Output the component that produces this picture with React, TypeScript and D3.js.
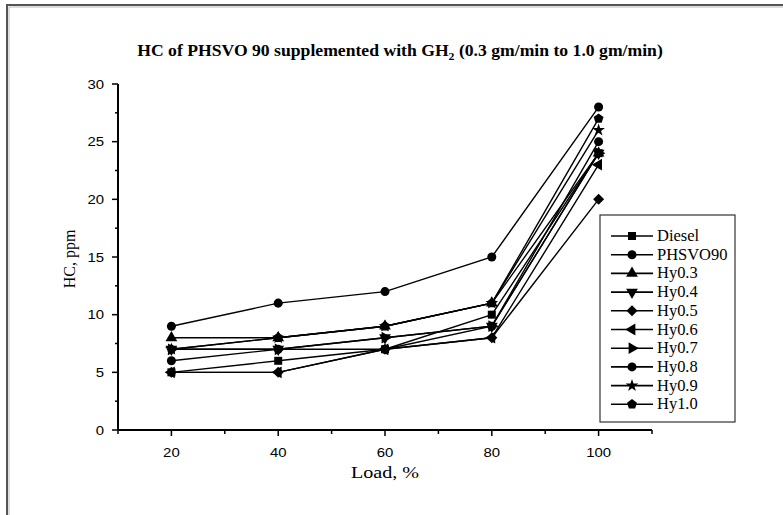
import React from "react";
import * as d3 from "d3";

const loads = [20, 40, 60, 80, 100];
const seriesNames = ["Diesel", "PHSVO90", "Hy0.3", "Hy0.4", "Hy0.5", "Hy0.6", "Hy0.7", "Hy0.8", "Hy0.9", "Hy1.0"];
const diesel = [5, 6, 7, 10, 24];
const phsvo90 = [9, 11, 12, 15, 28];
const hy03 = [8, 8, 9, 11, 24];
const hy04 = [7, 7, 8, 9, 24];
const hy05 = [5, 5, 7, 8, 20];
const hy06 = [5, 5, 7, 8, 23];
const hy07 = [7, 7, 8, 9, 24];
const hy08 = [6, 7, 7, 9, 25];
const hy09 = [7, 8, 9, 11, 26];
const hy10 = [7, 8, 9, 11, 27];
const seriesValues = [diesel, phsvo90, hy03, hy04, hy05, hy06, hy07, hy08, hy09, hy10];
const markers = ["square", "circle", "up", "down", "diamond", "left", "right", "circle", "star", "pentagon"];
const xTicks = [20, 40, 60, 80, 100];
const yTicks = [0, 5, 10, 15, 20, 25, 30];

const SERIF = "Liberation Serif, Times New Roman, serif";
const SANS = "Liberation Sans, Arial, sans-serif";

function pentagon(r: number) {
  const pts: string[] = [];
  for (let i = 0; i < 5; i++) {
    const a = -Math.PI / 2 + (i * 2 * Math.PI) / 5;
    pts.push(`${(r * Math.cos(a)).toFixed(2)},${(r * Math.sin(a)).toFixed(2)}`);
  }
  return "M" + pts.join("L") + "Z";
}

function Marker({ type, x, y }: { type: string; x: number; y: number }) {
  let d = "";
  let rot = 0;
  if (type === "square") d = d3.symbol(d3.symbolSquare, 64)()!;
  else if (type === "circle") d = d3.symbol(d3.symbolCircle, 64)()!;
  else if (type === "diamond") d = "M0,-5.5L5.5,0L0,5.5L-5.5,0Z";
  else if (type === "star") d = d3.symbol(d3.symbolStar, 50)()!;
  else if (type === "pentagon") d = pentagon(5.2);
  else {
    d = d3.symbol(d3.symbolTriangle, 60)()!;
    rot = type === "up" ? 0 : type === "down" ? 180 : type === "left" ? -90 : 90;
  }
  return <path d={d} transform={`translate(${x},${y}) rotate(${rot})`} fill="#000" />;
}

function SText({ x, y, sx = 1, anchor = "start", children, ...rest }: any) {
  return (
    <g transform={`translate(${x},${y}) scale(${sx},1)`}>
      <text x={0} y={0} textAnchor={anchor} {...rest}>{children}</text>
    </g>
  );
}

export default function App() {
  const W = 783, H = 515;
  const x = d3.scaleLinear().domain([10, 110]).range([118, 652]);
  const y = d3.scaleLinear().domain([0, 30]).range([430, 84]);
  const minorX = d3.range(10, 111, 10).filter((v) => !xTicks.includes(v));
  const minorY = d3.range(2.5, 30, 5);
  const line = d3.line<[number, number]>().x((d) => x(d[0])).y((d) => y(d[1]));
  const legX = 600, legY = 215, legW = 135, legH = 207;
  const rowH = 18.7;
  return (
    <div style={{ position: "fixed", left: 0, top: 0 }}>
      <svg width={W} height={H} style={{ display: "block", background: "#fff" }}>
        <rect x={0} y={0} width={W} height={H} fill="#fff" />
        <path d={`M7,${H}V5H${W}`} fill="none" stroke="#555" strokeWidth={2} />
        <path d={`M9,${H}V7H${W}`} fill="none" stroke="#bbb" strokeWidth={1} />
        <SText x={400} y={56} sx={1.07} anchor="middle" fontFamily={SERIF} fontWeight="bold" fontSize={16.5}>
          HC of PHSVO 90 supplemented with GH<tspan fontSize={11} dy={4}>2</tspan>
          <tspan dy={-4}> (0.3 gm/min to 1.0 gm/min)</tspan>
        </SText>
        {/* axes */}
        <line x1={118} x2={118} y1={y(30)} y2={430} stroke="#000" strokeWidth={2} />
        <line x1={118} x2={652} y1={430} y2={430} stroke="#000" strokeWidth={2} />
        {yTicks.map((t) => (
          <g key={"y" + t}>
            <line x1={112} x2={118} y1={y(t)} y2={y(t)} stroke="#000" strokeWidth={1.5} />
            <SText x={104} y={y(t) + 4.5} sx={1.15} anchor="end" fontFamily={SANS} fontSize={13}>{t}</SText>
          </g>
        ))}
        {minorY.map((t) => (
          <line key={"my" + t} x1={115} x2={118} y1={y(t)} y2={y(t)} stroke="#000" strokeWidth={1.5} />
        ))}
        {xTicks.map((t) => (
          <g key={"x" + t}>
            <line x1={x(t)} x2={x(t)} y1={430} y2={436} stroke="#000" strokeWidth={1.5} />
            <SText x={x(t)} y={457} sx={1.15} anchor="middle" fontFamily={SANS} fontSize={13}>{t}</SText>
          </g>
        ))}
        {minorX.map((t) => (
          <line key={"mx" + t} x1={x(t)} x2={x(t)} y1={430} y2={434} stroke="#000" strokeWidth={1.5} />
        ))}
        <SText x={385} y={478} sx={1.22} anchor="middle" fontFamily={SERIF} fontSize={16.5}>Load, %</SText>
        <text transform={`translate(75,${y(15) + 2}) rotate(-90)`} textAnchor="middle" fontFamily={SERIF} fontSize={16}>HC, ppm</text>
        {/* series */}
        {seriesValues.map((vals, i) => (
          <g key={"s" + i}>
            <path d={line(loads.map((l, j) => [l, vals[j]] as [number, number]))!} fill="none" stroke="#000" strokeWidth={1.4} />
            {loads.map((l, j) => (
              <Marker key={j} type={markers[i]} x={x(l)} y={y(vals[j])} />
            ))}
          </g>
        ))}
        {/* legend */}
        <rect x={legX} y={legY} width={legW} height={legH} fill="#fff" stroke="#333" strokeWidth={1.2} />
        {seriesNames.map((n, i) => {
          const cy = legY + 21 + i * rowH;
          return (
            <g key={"l" + i}>
              <line x1={611} x2={653} y1={cy} y2={cy} stroke="#000" strokeWidth={1.6} />
              <Marker type={markers[i]} x={632} y={cy} />
              <SText x={657} y={cy + 5} sx={1.03} fontFamily={SERIF} fontSize={16}>{n}</SText>
            </g>
          );
        })}
      </svg>
    </div>
  );
}
